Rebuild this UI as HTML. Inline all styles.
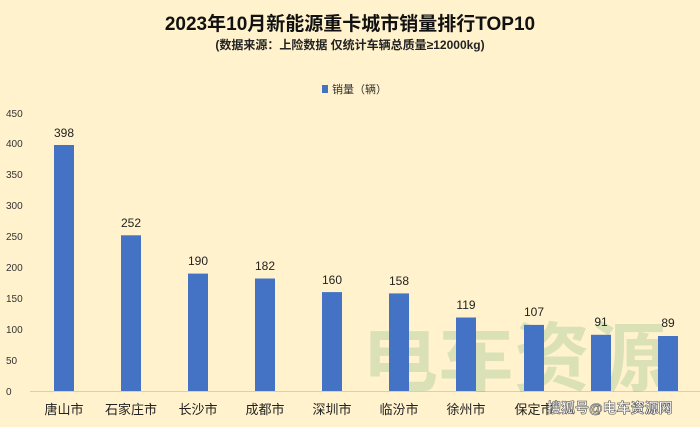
<!DOCTYPE html>
<html><head><meta charset="utf-8"><style>
body{margin:0;width:700px;height:422px;background:#FFF2CC;overflow:hidden;font-family:"Liberation Sans","Noto Sans CJK SC",sans-serif}
</style></head><body>
<svg width="700" height="422" xmlns="http://www.w3.org/2000/svg" font-family="Liberation Sans, Noto Sans CJK SC, sans-serif">
<rect width="700" height="422" fill="#FFF2CC"/>
<text x="350" y="30" text-anchor="middle" font-size="19" font-weight="bold" fill="#111">2023年10月新能源重卡城市销量排行TOP10</text>
<text x="350" y="49" text-anchor="middle" font-size="12" font-weight="bold" fill="#222">(数据来源：上险数据 仅统计车辆总质量≥12000kg)</text>
<rect x="322" y="85" width="6" height="8" fill="#4472C4"/>
<text x="332" y="93" font-size="11" fill="#333">销量（辆）</text>
<g font-size="10" fill="#333" text-anchor="start">
<text x="6" y="395">0</text><text x="6" y="364">50</text><text x="6" y="333">100</text><text x="6" y="302">150</text><text x="6" y="271">200</text><text x="6" y="240">250</text><text x="6" y="209">300</text><text x="6" y="178">350</text><text x="6" y="147">400</text><text x="6" y="117">450</text>
</g>
<line x1="30" y1="391.5" x2="700" y2="391.5" stroke="#d9d0b0" stroke-width="1"/>
<g opacity="0.18" font-size="76" font-weight="bold" fill="#3a9a5a"><text x="362" y="385">电车资源</text></g>
<g fill="#4472C4">
<rect x="54" y="145" width="20" height="246"/>
<rect x="121" y="235.3" width="20" height="155.7"/>
<rect x="188" y="273.6" width="20" height="117.4"/>
<rect x="255" y="278.5" width="20" height="112.5"/>
<rect x="322" y="292.1" width="20" height="98.9"/>
<rect x="389" y="293.4" width="20" height="97.6"/>
<rect x="456" y="317.5" width="20" height="73.5"/>
<rect x="524" y="324.9" width="20" height="66.1"/>
<rect x="591" y="334.8" width="20" height="56.2"/>
<rect x="658" y="336" width="20" height="55"/>
</g>
<g font-size="12" fill="#222" text-anchor="middle">
<text x="64" y="137">398</text><text x="131" y="227">252</text><text x="198" y="265">190</text><text x="265" y="270">182</text><text x="332" y="284">160</text><text x="399" y="285">158</text><text x="466" y="309">119</text><text x="534" y="316">107</text><text x="601" y="326">91</text><text x="668" y="327">89</text>
</g>
<g font-size="13" fill="#222" text-anchor="middle">
<text x="64" y="414">唐山市</text><text x="131" y="414">石家庄市</text><text x="198" y="414">长沙市</text><text x="265" y="414">成都市</text><text x="332" y="414">深圳市</text><text x="399" y="414">临汾市</text><text x="466" y="414">徐州市</text><text x="534" y="414">保定市</text>
</g>
<text x="547" y="413" font-size="14" font-weight="bold" fill="#fff" stroke="#555" stroke-width="0.6">搜狐号@电车资源网</text>
</svg>
</body></html>
